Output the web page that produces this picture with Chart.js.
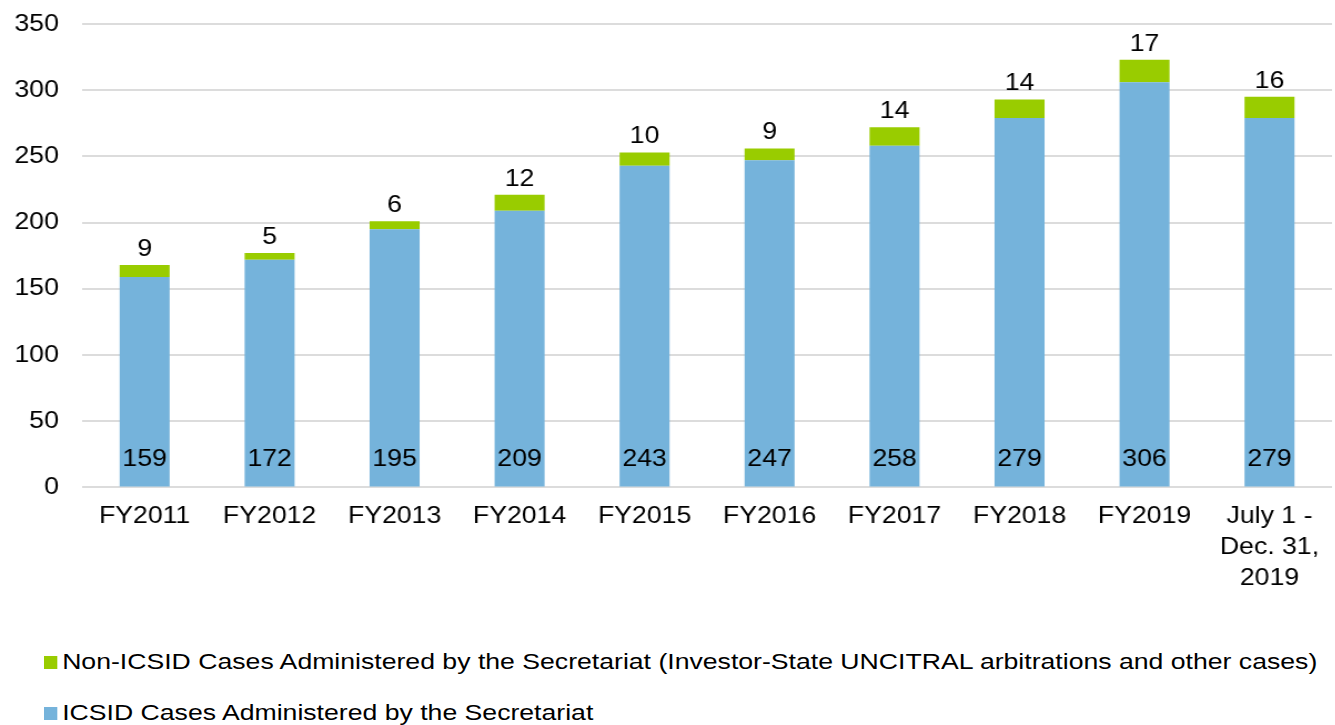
<!DOCTYPE html>
<html><head><meta charset="utf-8">
<script src="https://cdn.jsdelivr.net/npm/chart.js@4"></script>
<style>
html,body{margin:0;padding:0;background:#fff;overflow:hidden;width:1335px;height:725px}
#wrap{position:absolute;left:0;top:0;width:1203px;height:610px;transform:scaleX(1.11);transform-origin:0 0}
#c{position:absolute;left:0;top:0}
.leg{position:absolute;left:44px;height:26px;line-height:26px;font-size:22px;color:#000;white-space:nowrap;display:flex;align-items:center;font-family:"Liberation Sans",Arial,sans-serif;transform:scaleX(1.21);transform-origin:0 0}
.leg i{display:inline-block;width:11px;height:13px;margin-right:4px;flex:none}
</style></head><body>
<div id="wrap"><canvas id="c" width="1203" height="610"></canvas></div><div id="legend"></div>
<script>
const categories = ["FY2011","FY2012","FY2013","FY2014","FY2015","FY2016","FY2017","FY2018","FY2019",["July 1 -","Dec. 31,","2019"]];
const icsidCases = [159,172,195,209,243,247,258,279,306,279];
const nonIcsidCases = [9,5,6,12,10,9,14,14,17,16];
const yTickValues = [0,50,100,150,200,250,300,350];
const seriesNames = ["ICSID Cases Administered by the Secretariat","Non-ICSID Cases Administered by the Secretariat (Investor-State UNCITRAL arbitrations and other cases)"];
const seriesColors = ["#75B3DB","#99CC00"];

const FONT = '"Liberation Sans", Arial, sans-serif';

const valueLabels = {
  id: 'valueLabels',
  afterDatasetsDraw(chart){
    const ctx = chart.ctx;
    ctx.save();
    ctx.font = '24px ' + FONT;
    ctx.fillStyle = '#000';
    ctx.textAlign = 'center';
    chart.getDatasetMeta(0).data.forEach((b,i)=>{
      ctx.textBaseline = 'middle';
      ctx.fillText(String(icsidCases[i]), b.x, b.base - 27);
    });
    chart.getDatasetMeta(1).data.forEach((b,i)=>{
      ctx.textBaseline = 'alphabetic';
      ctx.fillText(String(nonIcsidCases[i]), b.x, b.y - 9);
    });
    ctx.restore();
  }
};

const chart = new Chart(document.getElementById('c'), {
  type: 'bar',
  data: {
    labels: categories,
    datasets: [
      {label: seriesNames[0], data: icsidCases, backgroundColor: seriesColors[0], barPercentage: 0.4, categoryPercentage: 1.0},
      {label: seriesNames[1], data: nonIcsidCases, backgroundColor: seriesColors[1], barPercentage: 0.4, categoryPercentage: 1.0}
    ]
  },
  options: {
    responsive: false,
    animation: false,
    devicePixelRatio: 1,
    layout: {padding: {top: 0, left: 10, right: 3, bottom: 11}},
    plugins: {legend: {display: false}, tooltip: {enabled: false}},
    scales: {
      x: {
        stacked: true,
        grid: {display: false},
        border: {display: false},
        ticks: {color: '#000', font: {family: FONT, size: 24, lineHeight: 1.3}, padding: 5, maxRotation: 0, autoSkip: false}
      },
      y: {
        stacked: true,
        min: 0, max: 350,
        afterBuildTicks(scale){ scale.ticks = yTickValues.map(v => ({value: v})); },
        afterFit(scale){ scale.width = 64; scale.paddingTop = 24; scale.paddingBottom = 0; },
        grid: {color: '#dcdcdc', lineWidth: 2, drawTicks: false},
        border: {display: false},
        ticks: {color: '#000', font: {family: FONT, size: 24}, padding: 21}
      }
    }
  },
  plugins: [valueLabels]
});

const legend = document.getElementById('legend');
const rowCenters = [662, 713];
[1,0].forEach((di,row)=>{
  const d = document.createElement('div');
  d.className = 'leg';
  d.style.top = (rowCenters[row] - 13) + 'px';
  const box = document.createElement('i');
  box.style.background = chart.data.datasets[di].backgroundColor;
  d.appendChild(box);
  d.appendChild(document.createTextNode(chart.data.datasets[di].label));
  legend.appendChild(d);
});
</script>
</body></html>
